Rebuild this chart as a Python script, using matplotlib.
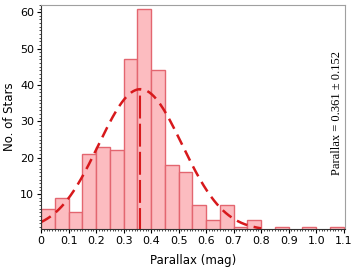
import numpy as np
import matplotlib
matplotlib.use("Agg")
import matplotlib.pyplot as plt
from matplotlib.ticker import MultipleLocator

# Histogram data (bin edges, width 0.05) and counts
bin_edges = [0.00, 0.05, 0.10, 0.15, 0.20, 0.25, 0.30, 0.35, 0.40, 0.45, 0.50,
             0.55, 0.60, 0.65, 0.70, 0.75, 0.80, 0.85, 0.90, 0.95, 1.00, 1.05, 1.10]
counts = [6, 9, 5, 21, 23, 22, 47, 61, 44, 18, 16,
          7, 3, 7, 1, 3, 0, 1, 0, 1, 0, 1]
mu = 0.361
sigma = 0.152
xticks = [0, 0.1, 0.2, 0.3, 0.4, 0.5, 0.6, 0.7, 0.8, 0.9, 1.0, 1.1]
xticklabels = ["0", "0.1", "0.2", "0.3", "0.4", "0.5", "0.6", "0.7", "0.8", "0.9", "1.0", "1.1"]
yticks = [10, 20, 30, 40, 50, 60]

fig = plt.figure(figsize=(3.51, 2.73), dpi=100)
ax = fig.add_axes([0.117, 0.161, 0.866, 0.821])

lefts = np.array(bin_edges[:-1])
widths = np.diff(bin_edges)
ax.bar(lefts, counts, width=widths, align="edge", color="#fcbcc0",
       edgecolor="#e36670", linewidth=1.0)

total = sum(counts)
bw = 0.05
xs = np.linspace(0, 0.8, 300)
gauss = total * bw / (sigma * np.sqrt(2 * np.pi)) * np.exp(-(xs - mu) ** 2 / (2 * sigma ** 2))
ax.plot(xs, gauss, color="#d7191c", linewidth=1.8, dashes=(4.5, 2.6))
peak = total * bw / (sigma * np.sqrt(2 * np.pi))
ax.plot([mu, mu], [0, peak], color="#d7191c", linewidth=1.5, dashes=(11, 2.5))

ax.set_xlim(0, 1.105)
ax.set_ylim(0.4, 62)
ax.set_xticks(xticks)
ax.set_xticklabels(xticklabels)
ax.set_yticks(yticks)
ax.xaxis.set_minor_locator(MultipleLocator(0.01))
ax.yaxis.set_minor_locator(MultipleLocator(1))
ax.tick_params(axis="both", which="major", labelsize=8, length=3, width=0.8, direction="out", pad=2)
ax.tick_params(axis="both", which="minor", length=1.5, width=0.5, direction="out")

for s in ["top", "right"]:
    ax.spines[s].set_color("#a0a0a0")
for s in ["left", "bottom"]:
    ax.spines[s].set_color("#333333")
    ax.spines[s].set_linewidth(0.8)

ax.set_xlabel("Parallax (mag)", fontsize=8.5, labelpad=6)
ax.set_ylabel("No. of Stars", fontsize=8.5, labelpad=3)

ax.text(0.975, 0.518, "Parallax = 0.361 \u00b1 0.152", transform=ax.transAxes,
        rotation=90, ha="center", va="center", fontsize=9,
        family=["Liberation Serif", "DejaVu Serif"])

fig.savefig("out.png", dpi=100)
